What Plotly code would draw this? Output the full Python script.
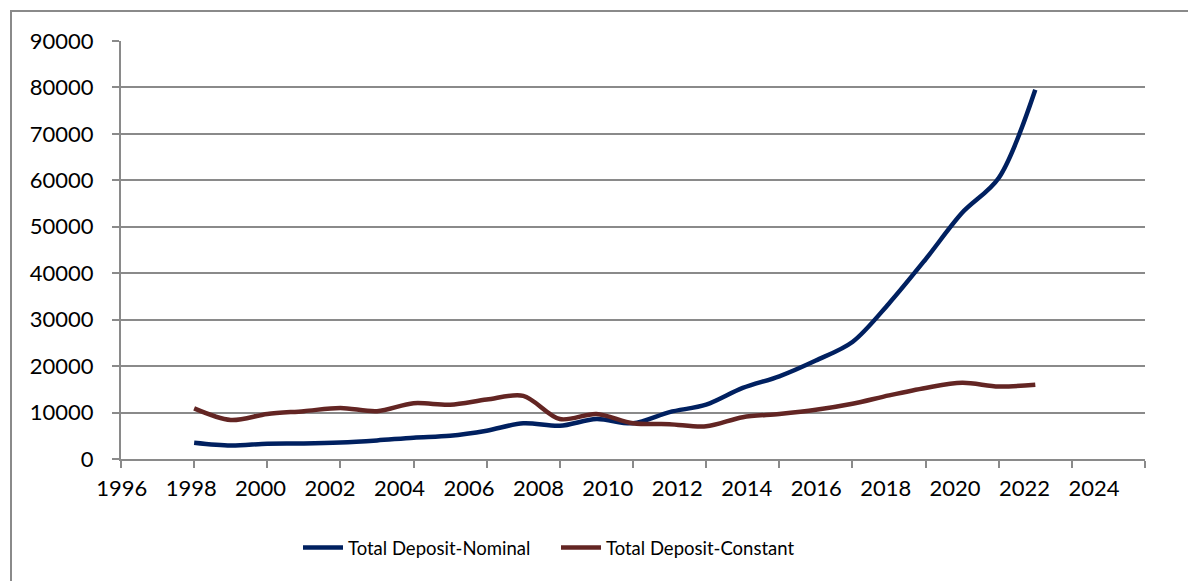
import plotly.graph_objects as go

# Annual total deposits, 1998-2021
years = list(range(1998, 2022))
nominal = [3500, 2900, 3300, 3350, 3550, 4000, 4600, 5000, 6100, 7700,
           7150, 8600, 7700, 10100, 11700, 15300, 17800, 21200, 25200, 33500,
           43000, 53000, 60500, 79500]
constant = [10900, 8400, 9700, 10300, 11000, 10300, 12000, 11700, 12800, 13600,
            8600, 9700, 7700, 7500, 7050, 9000, 9700, 10600, 11900, 13700,
            15300, 16400, 15600, 16000]

x_ticks = list(range(1996, 2025, 2))
y_ticks = list(range(0, 90001, 10000))

W, H = 1188, 581
L, R, T, B = 121, 1145, 41, 459          # plot area in pixels
GRID = "#8a8a8a"
FONT = "Lato"

fig = go.Figure()
fig.add_trace(go.Scatter(
    x=years, y=nominal, name="Total Deposit-Nominal", mode="lines",
    line=dict(color="#002060", width=4.5, shape="spline", smoothing=0.9),
))
fig.add_trace(go.Scatter(
    x=years, y=constant, name="Total Deposit-Constant", mode="lines",
    line=dict(color="#632523", width=4.5, shape="spline", smoothing=0.9),
))
# empty trace that carries the label axis
fig.add_trace(go.Scatter(x=[None], y=[None], xaxis="x2", showlegend=False,
                         hoverinfo="skip"))

# label axis: labels sit on a slightly narrower spacing than the tick marks
lbl_first, lbl_last = 121.7, 1094.0
px_per_yr = (lbl_last - lbl_first) / (x_ticks[-1] - x_ticks[0])
x2_lo = x_ticks[0] - (lbl_first - L) / px_per_yr
x2_hi = x_ticks[-1] + (R - lbl_last) / px_per_yr

fig.update_layout(
    width=W, height=H,
    margin=dict(l=L, r=W - R, t=T, b=H - B, pad=0),
    paper_bgcolor="white", plot_bgcolor="white",
    font=dict(family=FONT, size=22, color="#000000"),
    xaxis=dict(
        range=[x_ticks[0], x_ticks[-1]], tickvals=x_ticks, showticklabels=False,
        ticks="outside", ticklen=7, tickwidth=2, tickcolor=GRID,
        showline=True, linecolor=GRID, linewidth=2,
        showgrid=False, zeroline=False, fixedrange=True,
    ),
    xaxis2=dict(
        range=[x2_lo, x2_hi], tickvals=x_ticks, overlaying="x", side="bottom",
        anchor="y", ticks="", showline=False, showgrid=False, zeroline=False,
        ticklabelstandoff=14, tickfont=dict(family=FONT, size=22),
    ),
    yaxis=dict(
        range=[0, 90000], tickvals=y_ticks, tickformat="d",
        ticks="outside", ticklen=7,
        tickwidth=2, tickcolor=GRID, showline=True, linecolor=GRID, linewidth=2,
        showgrid=True, gridcolor=GRID, gridwidth=2, zeroline=False,
        ticklabelstandoff=14, tickfont=dict(family=FONT, size=22),
    ),
    legend=dict(
        orientation="h", x=(298 - L) / (R - L), xanchor="left",
        y=(B - 548) / (B - T), yanchor="middle",
        font=dict(family=FONT, size=18.5), itemwidth=40,
        entrywidth=203, entrywidthmode="pixels",
        bgcolor="rgba(0,0,0,0)",
    ),
    shapes=[dict(
        type="rect", xref="paper", yref="paper",
        x0=(11 - L) / (R - L), x1=(W + 20 - L) / (R - L),
        y0=(B - (H + 20)) / (B - T), y1=(B - 11) / (B - T),
        line=dict(color="#8a8a8a", width=2), layer="below",
    )],
)

fig.write_html("out.html")
